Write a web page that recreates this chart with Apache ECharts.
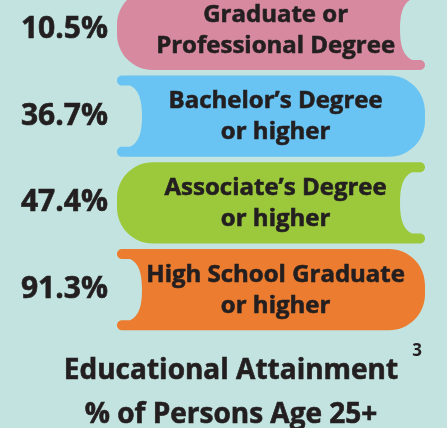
<!DOCTYPE html>
<html>
<head>
<meta charset="utf-8">
<script src="https://cdn.jsdelivr.net/npm/echarts@6/dist/echarts.min.js"></script>
<style>
  html, body { margin: 0; padding: 0; background: #c2e3df; }
  #eduChart { width: 447px; height: 428px; }
</style>
</head>
<body>
<div id="eduChart"></div>
<script>
  // 数据：从上到下
  const levels = [
    'Graduate or\nProfessional Degree',
    'Bachelor\u2019s Degree\nor higher',
    'Associate\u2019s Degree\nor higher',
    'High School Graduate\nor higher'
  ];
  const percents = [10.5, 36.7, 47.4, 91.3];
  const titleLines = ['Educational Attainment', '% of Persons Age 25+'];
  const footnote = '3';

  const bookColors = ['#d6899f', '#69c4f4', '#9cc93b', '#ec7d30'];
  const textColor = '#231f20';
  const fontFamily = '"Open Sans", sans-serif';

  // 书本形状：一侧圆角，另一侧是书页凹口
  function bookPath(x0, x1, yt, yb, flip) {
    const cy = (yt + yb) / 2;
    const r = 36, n = 10, nr = 5, k = 0.5523;
    const fx = x => flip ? (x0 + x1 - x) : x;
    const P = (x, y) => fx(x).toFixed(2) + ' ' + y.toFixed(2);
    return [
      'M', P(x0 + r, yt),
      'L', P(x1 - nr, yt),
      'C', P(x1 - nr + k * nr, yt), P(x1, yt + nr - k * nr), P(x1, yt + nr),
      'C', P(x1, yt + nr + k * nr), P(x1 - nr + k * nr, yt + n), P(x1 - nr, yt + n),
      'L', P(x1 - 13, yt + n),
      'C', P(x1 - 22, yt + n + 4), P(x1 - 25, cy - 16), P(x1 - 25, cy),
      'C', P(x1 - 25, cy + 16), P(x1 - 22, yb - n - 4), P(x1 - 13, yb - n),
      'L', P(x1 - nr, yb - n),
      'C', P(x1 - nr + k * nr, yb - n), P(x1, yb - n + nr - k * nr), P(x1, yb - nr),
      'C', P(x1, yb - nr + k * nr), P(x1 - nr + k * nr, yb), P(x1 - nr, yb),
      'L', P(x0 + r, yb),
      'C', P(x0 + r - k * r, yb), P(x0, yb - r + k * r), P(x0, yb - r),
      'L', P(x0, yt + r),
      'C', P(x0, yt + r - k * r), P(x0 + r - k * r, yt), P(x0 + r, yt),
      'Z'
    ].join(' ');
  }

  function renderItem(params, api) {
    const idx = api.value(0);
    const pct = api.value(1);
    const left = api.coord([0, idx]);
    const right = api.coord([100, idx]);
    const half = api.size([0, 1])[1] * 0.467;
    const x0 = left[0], x1 = right[0], cy = left[1];
    return {
      type: 'group',
      children: [{
        type: 'path',
        shape: { pathData: bookPath(x0, x1, cy - half, cy + half, idx % 2 === 1) },
        style: { fill: bookColors[idx] }
      }, {
        type: 'text',
        style: {
          text: levels[idx],
          x: x0 + (x1 - x0) * 0.515,
          y: cy + 1,
          align: 'center', verticalAlign: 'middle',
          textAlign: 'center', textVerticalAlign: 'middle',
          font: 'bold 24px ' + fontFamily,
          lineHeight: 31,
          fill: textColor,
          stroke: textColor,
          lineWidth: 0.6
        }
      }, {
        type: 'text',
        style: {
          text: pct.toFixed(1) + '%',
          x: x0 - 9,
          y: cy,
          align: 'right', verticalAlign: 'middle',
          textAlign: 'right', textVerticalAlign: 'middle',
          font: 'bold 30px ' + fontFamily,
          fill: textColor,
          stroke: textColor,
          lineWidth: 0.6
        }
      }]
    };
  }

  const myChart = echarts.init(document.getElementById('eduChart'));
  const option = {
    backgroundColor: '#c2e3df',
    animation: false,
    grid: { left: 117, right: 22, top: -14, height: 347, outerBoundsMode: 'none', containLabel: false },
    xAxis: { type: 'value', min: 0, max: 100, show: false },
    yAxis: { type: 'category', inverse: true, data: levels, show: false },
    series: [{
      type: 'custom',
      renderItem: renderItem,
      encode: { y: 0 },
      clip: false,
      data: percents.map((p, i) => [i, p])
    }],
    graphic: [{
      type: 'text',
      style: {
        text: titleLines.join('\n'),
        x: 231, y: 393,
        align: 'center', verticalAlign: 'middle',
        textAlign: 'center', textVerticalAlign: 'middle',
        font: 'bold 28px ' + fontFamily,
        lineHeight: 44,
        fill: textColor,
        stroke: textColor,
        lineWidth: 0.6
      }
    }, {
      type: 'text',
      style: {
        text: footnote,
        x: 417, y: 351,
        align: 'center', verticalAlign: 'middle',
        textAlign: 'center', textVerticalAlign: 'middle',
        font: 'bold 17px ' + fontFamily,
        fill: textColor
      }
    }]
  };
  myChart.setOption(option);
</script>
</body>
</html>
